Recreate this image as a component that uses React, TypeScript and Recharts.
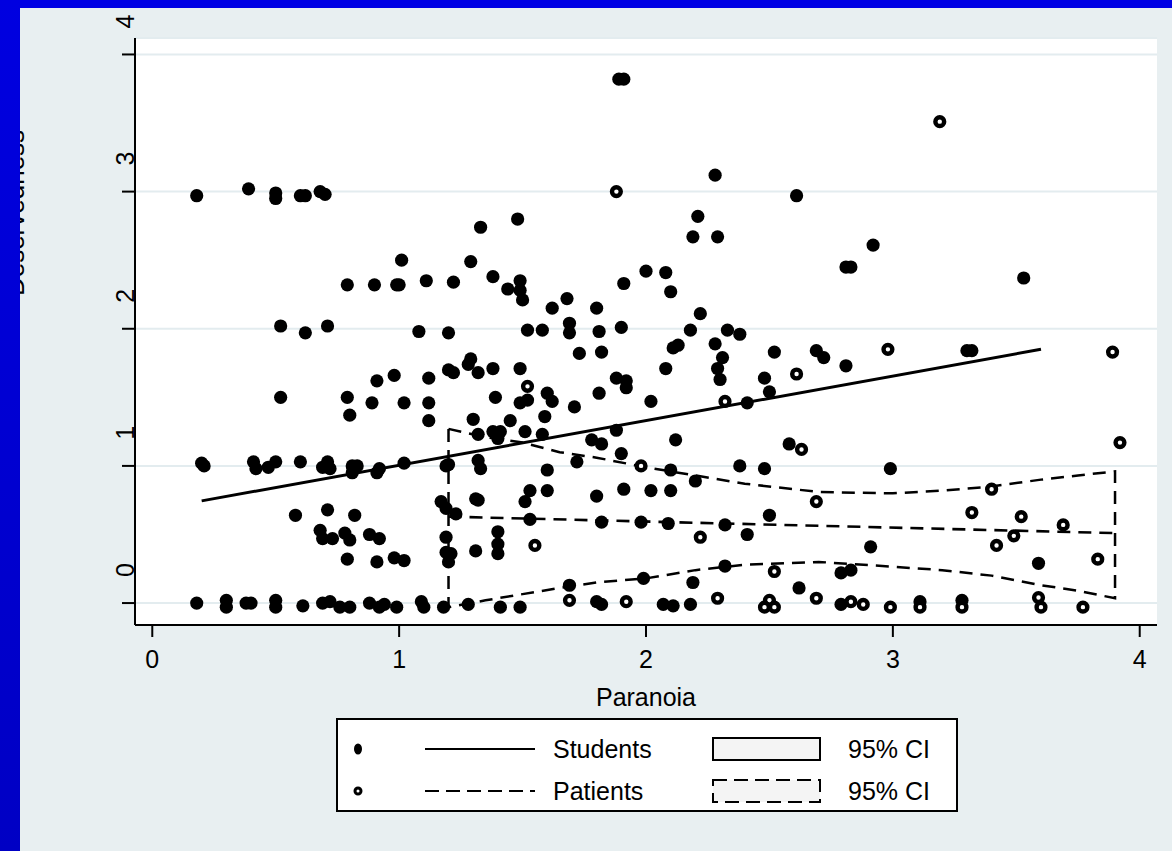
import * as React from "react";
import {
  ComposedChart,
  Scatter,
  Line,
  XAxis,
  YAxis,
  CartesianGrid,
} from "recharts";

/* ---------- data ---------- */
const xTicks = [0, 1, 2, 3, 4];
const yTicks = [0, 1, 2, 3, 4];

// students: [paranoia, deservedness]
const students: [number, number][] = [
  [0.18, 2.97], [0.39, 3.02], [0.5, 2.99], [0.5, 2.95], [0.6, 2.97], [0.62, 2.97], [0.68, 3.0], [0.7, 2.98],
  [1.89, 3.82], [1.91, 3.82], [2.28, 3.12], [2.61, 2.97],
  [1.33, 2.74], [1.48, 2.8], [2.21, 2.82], [2.19, 2.67], [2.29, 2.67], [2.92, 2.61], [2.81, 2.45], [2.83, 2.45],
  [1.01, 2.5], [1.29, 2.49], [1.38, 2.38], [2.0, 2.42], [2.08, 2.41], [3.53, 2.37],
  [0.79, 2.32], [0.9, 2.32], [0.99, 2.32], [1.0, 2.32], [1.11, 2.35], [1.22, 2.34], [1.44, 2.29], [1.49, 2.35],
  [1.49, 2.28], [1.5, 2.21], [1.91, 2.33], [2.1, 2.27], [1.68, 2.22], [1.62, 2.15], [1.8, 2.15], [2.22, 2.11],
  [0.52, 2.02], [0.62, 1.97], [0.71, 2.02], [1.08, 1.98], [1.2, 1.97], [1.52, 1.99], [1.58, 1.99], [1.69, 2.04],
  [1.69, 1.97], [1.81, 1.98], [1.9, 2.01], [2.18, 1.99], [2.33, 1.99], [2.38, 1.96],
  [1.73, 1.82], [1.82, 1.83], [2.11, 1.86], [2.13, 1.88], [2.28, 1.89], [2.31, 1.79], [2.29, 1.71], [2.3, 1.63],
  [2.08, 1.71], [2.52, 1.83], [2.69, 1.84], [2.72, 1.79], [2.81, 1.73], [2.48, 1.64], [3.3, 1.84], [3.32, 1.84],
  [2.5, 1.54], [2.41, 1.46], [1.29, 1.78], [1.28, 1.74], [1.32, 1.68], [1.38, 1.71], [1.49, 1.71], [1.2, 1.7],
  [1.22, 1.68], [0.91, 1.62], [0.98, 1.66], [1.12, 1.64], [1.6, 1.53], [1.62, 1.47], [1.81, 1.53], [1.88, 1.64],
  [1.92, 1.62], [1.92, 1.57],
  [0.52, 1.5], [0.79, 1.5], [0.8, 1.37], [0.89, 1.46], [1.02, 1.46], [1.12, 1.46], [1.12, 1.33], [1.39, 1.5],
  [1.49, 1.46], [1.52, 1.48], [1.3, 1.34], [1.45, 1.33], [1.51, 1.25], [1.32, 1.23], [1.38, 1.25], [1.41, 1.25],
  [1.4, 1.2], [1.58, 1.23], [1.59, 1.36], [1.71, 1.43], [2.02, 1.47], [1.88, 1.26], [1.78, 1.19], [1.82, 1.16],
  [1.9, 1.09], [2.12, 1.19], [2.58, 1.16],
  [0.2, 1.02], [0.21, 1.0], [0.41, 1.03], [0.42, 0.98], [0.47, 0.99], [0.5, 1.03], [0.6, 1.03], [0.69, 0.99],
  [0.71, 1.03], [0.72, 0.98], [0.81, 1.0], [0.83, 1.0], [0.81, 0.95], [0.92, 0.98], [0.91, 0.95], [1.02, 1.02],
  [1.19, 1.0], [1.2, 1.01], [1.32, 1.04], [1.33, 0.98], [1.6, 0.97], [1.72, 1.03], [2.1, 0.97], [2.38, 1.0],
  [2.48, 0.98], [2.99, 0.98], [2.2, 0.89],
  [1.17, 0.74], [1.19, 0.69], [1.23, 0.65], [1.31, 0.76], [1.32, 0.75], [1.53, 0.82], [1.51, 0.74], [1.6, 0.82],
  [1.8, 0.78], [1.91, 0.83], [2.02, 0.82], [2.1, 0.82],
  [0.58, 0.64], [0.71, 0.68], [0.82, 0.64], [0.68, 0.53], [0.69, 0.47], [0.73, 0.47], [0.78, 0.51], [0.8, 0.46],
  [0.88, 0.5], [0.92, 0.47], [0.79, 0.32], [0.91, 0.3], [0.98, 0.33], [1.02, 0.31],
  [1.53, 0.61], [1.82, 0.59], [1.98, 0.59], [2.09, 0.58], [2.32, 0.57], [2.5, 0.64], [2.41, 0.5], [1.4, 0.52],
  [1.4, 0.43], [1.4, 0.36], [1.19, 0.48], [1.19, 0.37], [1.21, 0.36], [1.2, 0.3], [1.31, 0.38], [2.91, 0.41],
  [1.69, 0.13], [1.99, 0.18], [2.19, 0.15], [2.32, 0.27], [2.62, 0.11], [3.59, 0.29], [2.79, 0.22], [2.83, 0.24],
  [0.18, 0.0], [0.3, 0.02], [0.3, -0.03], [0.38, 0.0], [0.4, 0.0], [0.5, 0.02], [0.5, -0.03], [0.61, -0.02],
  [0.69, 0.0], [0.72, 0.01], [0.76, -0.03], [0.8, -0.03], [0.88, 0.0], [0.92, -0.03], [0.94, -0.01], [0.99, -0.03],
  [1.09, 0.01], [1.1, -0.03], [1.18, -0.03], [1.28, -0.01], [1.41, -0.03], [1.49, -0.03], [1.8, 0.01], [1.82, -0.01],
  [2.07, -0.01], [2.11, -0.02], [2.18, -0.01], [2.79, -0.01], [3.11, 0.01], [3.28, 0.02],
];

// patients: [paranoia, deservedness]
const patients: [number, number][] = [
  [1.52, 1.58], [1.55, 0.42], [1.69, 0.02], [1.92, 0.01], [1.98, 1.0], [1.88, 3.0], [2.29, 0.035], [2.32, 1.47],
  [2.22, 0.48], [2.5, 0.02], [2.48, -0.03], [2.52, -0.03], [2.52, 0.23], [2.61, 1.67], [2.63, 1.12], [2.69, 0.74],
  [2.69, 0.035], [2.83, 0.01], [2.88, -0.01], [2.98, 1.85], [2.99, -0.03], [3.11, -0.03], [3.19, 3.51], [3.28, -0.03],
  [3.32, 0.66], [3.4, 0.83], [3.42, 0.42], [3.49, 0.49], [3.52, 0.63], [3.59, 0.04], [3.6, -0.03], [3.69, 0.57],
  [3.77, -0.03], [3.83, 0.32], [3.89, 1.83], [3.92, 1.17],
];

// linear fits
const studentFitX = [0.2, 3.6];
const studentFitY = [0.745, 1.85];
const patientFitX = [1.2, 3.9];
const patientFitY = [0.63, 0.51];

// patients 95% CI
const ciX = [1.2, 1.35, 1.5, 1.65, 1.8, 2.0, 2.2, 2.4, 2.7, 3.0, 3.2, 3.4, 3.6, 3.75, 3.9];
const ciUpper = [1.27, 1.21, 1.17, 1.1, 1.06, 0.99, 0.93, 0.87, 0.81, 0.8, 0.82, 0.85, 0.9, 0.93, 0.96];
const ciLower = [-0.03, 0.02, 0.065, 0.11, 0.15, 0.18, 0.24, 0.28, 0.3, 0.265, 0.24, 0.2, 0.13, 0.09, 0.035];

/* ---------- built for recharts ---------- */
const studentData = students.map(([x, y]) => ({ x, y }));
const patientData = patients.map(([x, y]) => ({ x, y }));
const studentFit = studentFitX.map((x, i) => ({ x, y: studentFitY[i] }));
const patientFit = patientFitX.map((x, i) => ({ x, y: patientFitY[i] }));
// closed outline: upper left->right, lower right->left, back to start
const ciOutline = [
  ...ciX.map((x, i) => ({ x, y: ciUpper[i] })),
  ...ciX.map((x, i) => ({ x, y: ciLower[i] })).reverse(),
  { x: ciX[0], y: ciUpper[0] },
];

/* ---------- visuals ---------- */
const font = '"Liberation Sans", Arial, Helvetica, sans-serif';
const bg = "#e8eff1";
const dash = "13 8";

const FilledDot = (p: any) => <circle cx={p.cx} cy={p.cy} r={6.6} fill="#000" />;
const HollowDot = (p: any) => (
  <circle cx={p.cx} cy={p.cy} r={4.4} fill="#fff" stroke="#000" strokeWidth={4.4} />
);

const YTick = (p: any) => (
  <text
    transform={`translate(${p.x + 14},${p.y - 33}) rotate(-90)`}
    textAnchor="middle"
    fontSize={25}
    fontFamily={font}
    fill="#000"
  >
    {p.payload.value}
  </text>
);

export default function App() {
  return (
    <div
      style={{
        position: "absolute",
        left: 0,
        top: 0,
        width: 1172,
        height: 851,
        background: bg,
        overflow: "hidden",
        fontFamily: font,
      }}
    >
      <ComposedChart
        width={1172}
        height={851}
        margin={{ top: 38, right: 15, bottom: 186, left: 75 }}
      >
        <CartesianGrid vertical={false} fill="#fff" stroke="#e3ecef" strokeWidth={2} />
        <XAxis
          type="number"
          dataKey="x"
          domain={[-0.07, 4.07]}
          allowDataOverflow
          ticks={xTicks}
          height={40}
          tickSize={12}
          tickMargin={13}
          axisLine={{ stroke: "#000", strokeWidth: 2 }}
          tickLine={{ stroke: "#000", strokeWidth: 2 }}
          tick={{ fontSize: 25, fill: "#000", fontFamily: font }}
          label={(props: any) => {
            const vb = props.viewBox;
            return (
              <text x={vb.x + vb.width / 2} y={vb.y + 81} textAnchor="middle" fontSize={25} fontFamily={font} fill="#000">
                Paranoia
              </text>
            );
          }}
        />
        <YAxis
          type="number"
          dataKey="y"
          domain={[-0.16, 4.12]}
          allowDataOverflow
          ticks={yTicks}
          width={60}
          tickSize={13}
          axisLine={{ stroke: "#000", strokeWidth: 2 }}
          tickLine={{ stroke: "#000", strokeWidth: 2 }}
          tick={<YTick />}
          label={() => (
            <text transform="translate(24,213) rotate(-90)" textAnchor="middle" fontSize={26} fontFamily={font} fill="#000">
              Deservedness
            </text>
          )}
        />
        <Line data={ciOutline} dataKey="y" type="linear" stroke="#000" strokeWidth={2.5} strokeDasharray={dash} dot={false} isAnimationActive={false} />
        <Line data={patientFit} dataKey="y" type="linear" stroke="#000" strokeWidth={2.6} strokeDasharray={dash} dot={false} isAnimationActive={false} />
        <Line data={studentFit} dataKey="y" type="linear" stroke="#000" strokeWidth={3} dot={false} isAnimationActive={false} />
        <Scatter data={studentData} shape={FilledDot} isAnimationActive={false} />
        <Scatter data={patientData} shape={HollowDot} isAnimationActive={false} />
      </ComposedChart>

      {/* blue slide frame */}
      <div style={{ position: "absolute", left: 0, top: 0, width: 1172, height: 8, background: "#0000e4" }} />
      <div style={{ position: "absolute", left: 0, top: 0, width: 20, height: 851, background: "linear-gradient(#0000e0, #0000c4)" }} />

      {/* legend */}
      <div
        style={{
          position: "absolute",
          left: 336,
          top: 718,
          width: 622,
          height: 94,
          boxSizing: "border-box",
          border: "2px solid #000",
          background: "#fff",
        }}
      >
        <svg width={618} height={90} style={{ position: "absolute", left: 0, top: 0 }}>
          <ellipse cx={20} cy={29} rx={4} ry={5.5} fill="#000" />
          <line x1={87} x2={197} y1={29} y2={29} stroke="#000" strokeWidth={2} />
          <text x={215} y={29} dominantBaseline="central" fontSize={25} fontFamily={font} fill="#000">Students</text>
          <rect x={375} y={18} width={107} height={22} fill="#f4f4f4" stroke="#000" strokeWidth={2} />
          <text x={510} y={29} dominantBaseline="central" fontSize={25} fontFamily={font} fill="#000">95% CI</text>

          <circle cx={20} cy={71} r={3} fill="#fff" stroke="#000" strokeWidth={3} />
          <line x1={87} x2={197} y1={71} y2={71} stroke="#000" strokeWidth={2} strokeDasharray="14 7" />
          <text x={215} y={71} dominantBaseline="central" fontSize={25} fontFamily={font} fill="#000">Patients</text>
          <rect x={375} y={60} width={107} height={22} fill="#f4f4f4" stroke="#000" strokeWidth={2} strokeDasharray="14 7" />
          <text x={510} y={71} dominantBaseline="central" fontSize={25} fontFamily={font} fill="#000">95% CI</text>
        </svg>
      </div>
    </div>
  );
}
